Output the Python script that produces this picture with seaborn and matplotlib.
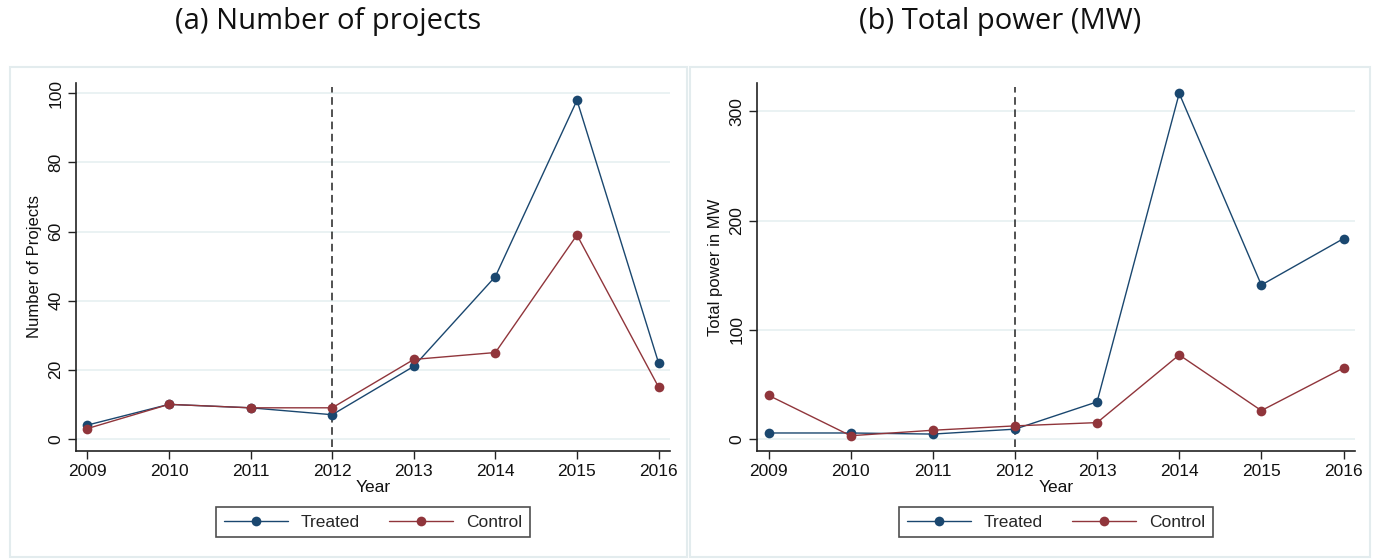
import matplotlib
matplotlib.use("Agg")
import matplotlib.pyplot as plt
from matplotlib.patches import Rectangle
from matplotlib.lines import Line2D
import seaborn as sns
import pandas as pd

years = [2009, 2010, 2011, 2012, 2013, 2014, 2015, 2016]
projects_treated = [4, 10, 9, 7, 21, 47, 98, 22]
projects_control = [3, 10, 9, 9, 23, 25, 59, 15]
power_treated = [5.5, 5.5, 4.5, 9, 34, 316.5, 141, 183.5]
power_control = [40, 3, 8, 12, 15, 77, 26, 65]
groups = ["Treated", "Control"]
panel_titles = ["(a) Number of projects", "(b) Total power (MW)"]
y_labels = ["Number of Projects", "Total power in MW"]
treatment_year = 2012

NAVY = "#1a476f"
MAROON = "#90353b"
palette = {"Treated": NAVY, "Control": MAROON}

sns.set_theme(style="white")
plt.rcParams["font.family"] = ["Liberation Sans", "DejaVu Sans"]

fig = plt.figure(figsize=(13.77, 5.59), dpi=100)
W, H = 1377, 559


def fx(px):
    return px / W


def fy(py):
    return 1 - py / H


# panel frames behind the axes
for x0, x1 in [(10, 687), (690, 1370)]:
    fig.patches.append(Rectangle((fx(x0), fy(557)), fx(x1 - x0), (557 - 67) / H,
                                 transform=fig.transFigure, facecolor="white",
                                 edgecolor="#e3ecee", linewidth=1.5, zorder=-5))

ax1 = fig.add_axes([fx(76), fy(451), fx(670 - 76), (451 - 83) / H])
ax2 = fig.add_axes([fx(757), fy(451), fx(1355 - 757), (451 - 83) / H])


def long_frame(treated, control):
    return pd.DataFrame({
        "Year": years * 2,
        "value": list(treated) + list(control),
        "group": ["Treated"] * len(years) + ["Control"] * len(years),
    })


specs = [
    (ax1, long_frame(projects_treated, projects_control), (-3.5, 103), [0, 20, 40, 60, 80, 100]),
    (ax2, long_frame(power_treated, power_control), (-11, 326), [0, 100, 200, 300]),
]

for i, (ax, df, ylim, yticks) in enumerate(specs):
    ax.set_zorder(2)
    ax.patch.set_alpha(0)
    for t in yticks:
        ax.axhline(t, color="#e6f0f1", linewidth=1.2, zorder=0)
    sns.lineplot(data=df, x="Year", y="value", hue="group", hue_order=groups,
                 palette=palette, marker="o", markersize=7, markeredgewidth=0,
                 linewidth=1.0, ax=ax, legend=False, zorder=3)
    ax.axvline(treatment_year, color="#222222", linestyle=(0, (5, 3)),
               linewidth=1.1, ymin=0.01, ymax=0.99, zorder=2)
    ax.set_xlim(2008.86, 2016.14)
    ax.set_ylim(*ylim)
    ax.set_xticks(years)
    ax.set_xticklabels([str(y) for y in years])
    ax.set_yticks(yticks)
    for lbl in ax.get_yticklabels():
        lbl.set_rotation(90)
        lbl.set_va("center")
    ax.tick_params(axis="both", direction="out", length=6, width=1.0,
                   color="#222222", labelsize=12.5, labelcolor="#111111", pad=3,
                   bottom=True, left=True)
    for side in ["top", "right"]:
        ax.spines[side].set_visible(False)
    for side in ["left", "bottom"]:
        ax.spines[side].set_color("#222222")
        ax.spines[side].set_linewidth(1.2)
    ax.set_xlabel("Year", fontsize=12.5, color="#111111", labelpad=1)
    ax.set_ylabel(y_labels[i], fontsize=12, color="#111111", labelpad=5)

    handles = [Line2D([0], [0], color=palette[g], marker="o", markersize=7,
                      markeredgewidth=0, linewidth=1.0) for g in groups]
    leg = ax.legend(handles, groups, loc="center", bbox_to_anchor=(0.5, -0.193),
                    ncol=2, frameon=True, fancybox=False, fontsize=12.5,
                    handlelength=3.7, columnspacing=1.7, handletextpad=0.7,
                    borderpad=0.45, borderaxespad=0)
    leg.get_frame().set_edgecolor("#222222")
    leg.get_frame().set_linewidth(1.2)

fig.text(fx(328), fy(22), panel_titles[0], ha="center", va="center",
         fontsize=21, family=["Open Sans", "DejaVu Sans"], color="#111111")
fig.text(fx(1000), fy(22), panel_titles[1], ha="center", va="center",
         fontsize=21, family=["Open Sans", "DejaVu Sans"], color="#111111")

fig.savefig("out.png", dpi=100, facecolor="white")
